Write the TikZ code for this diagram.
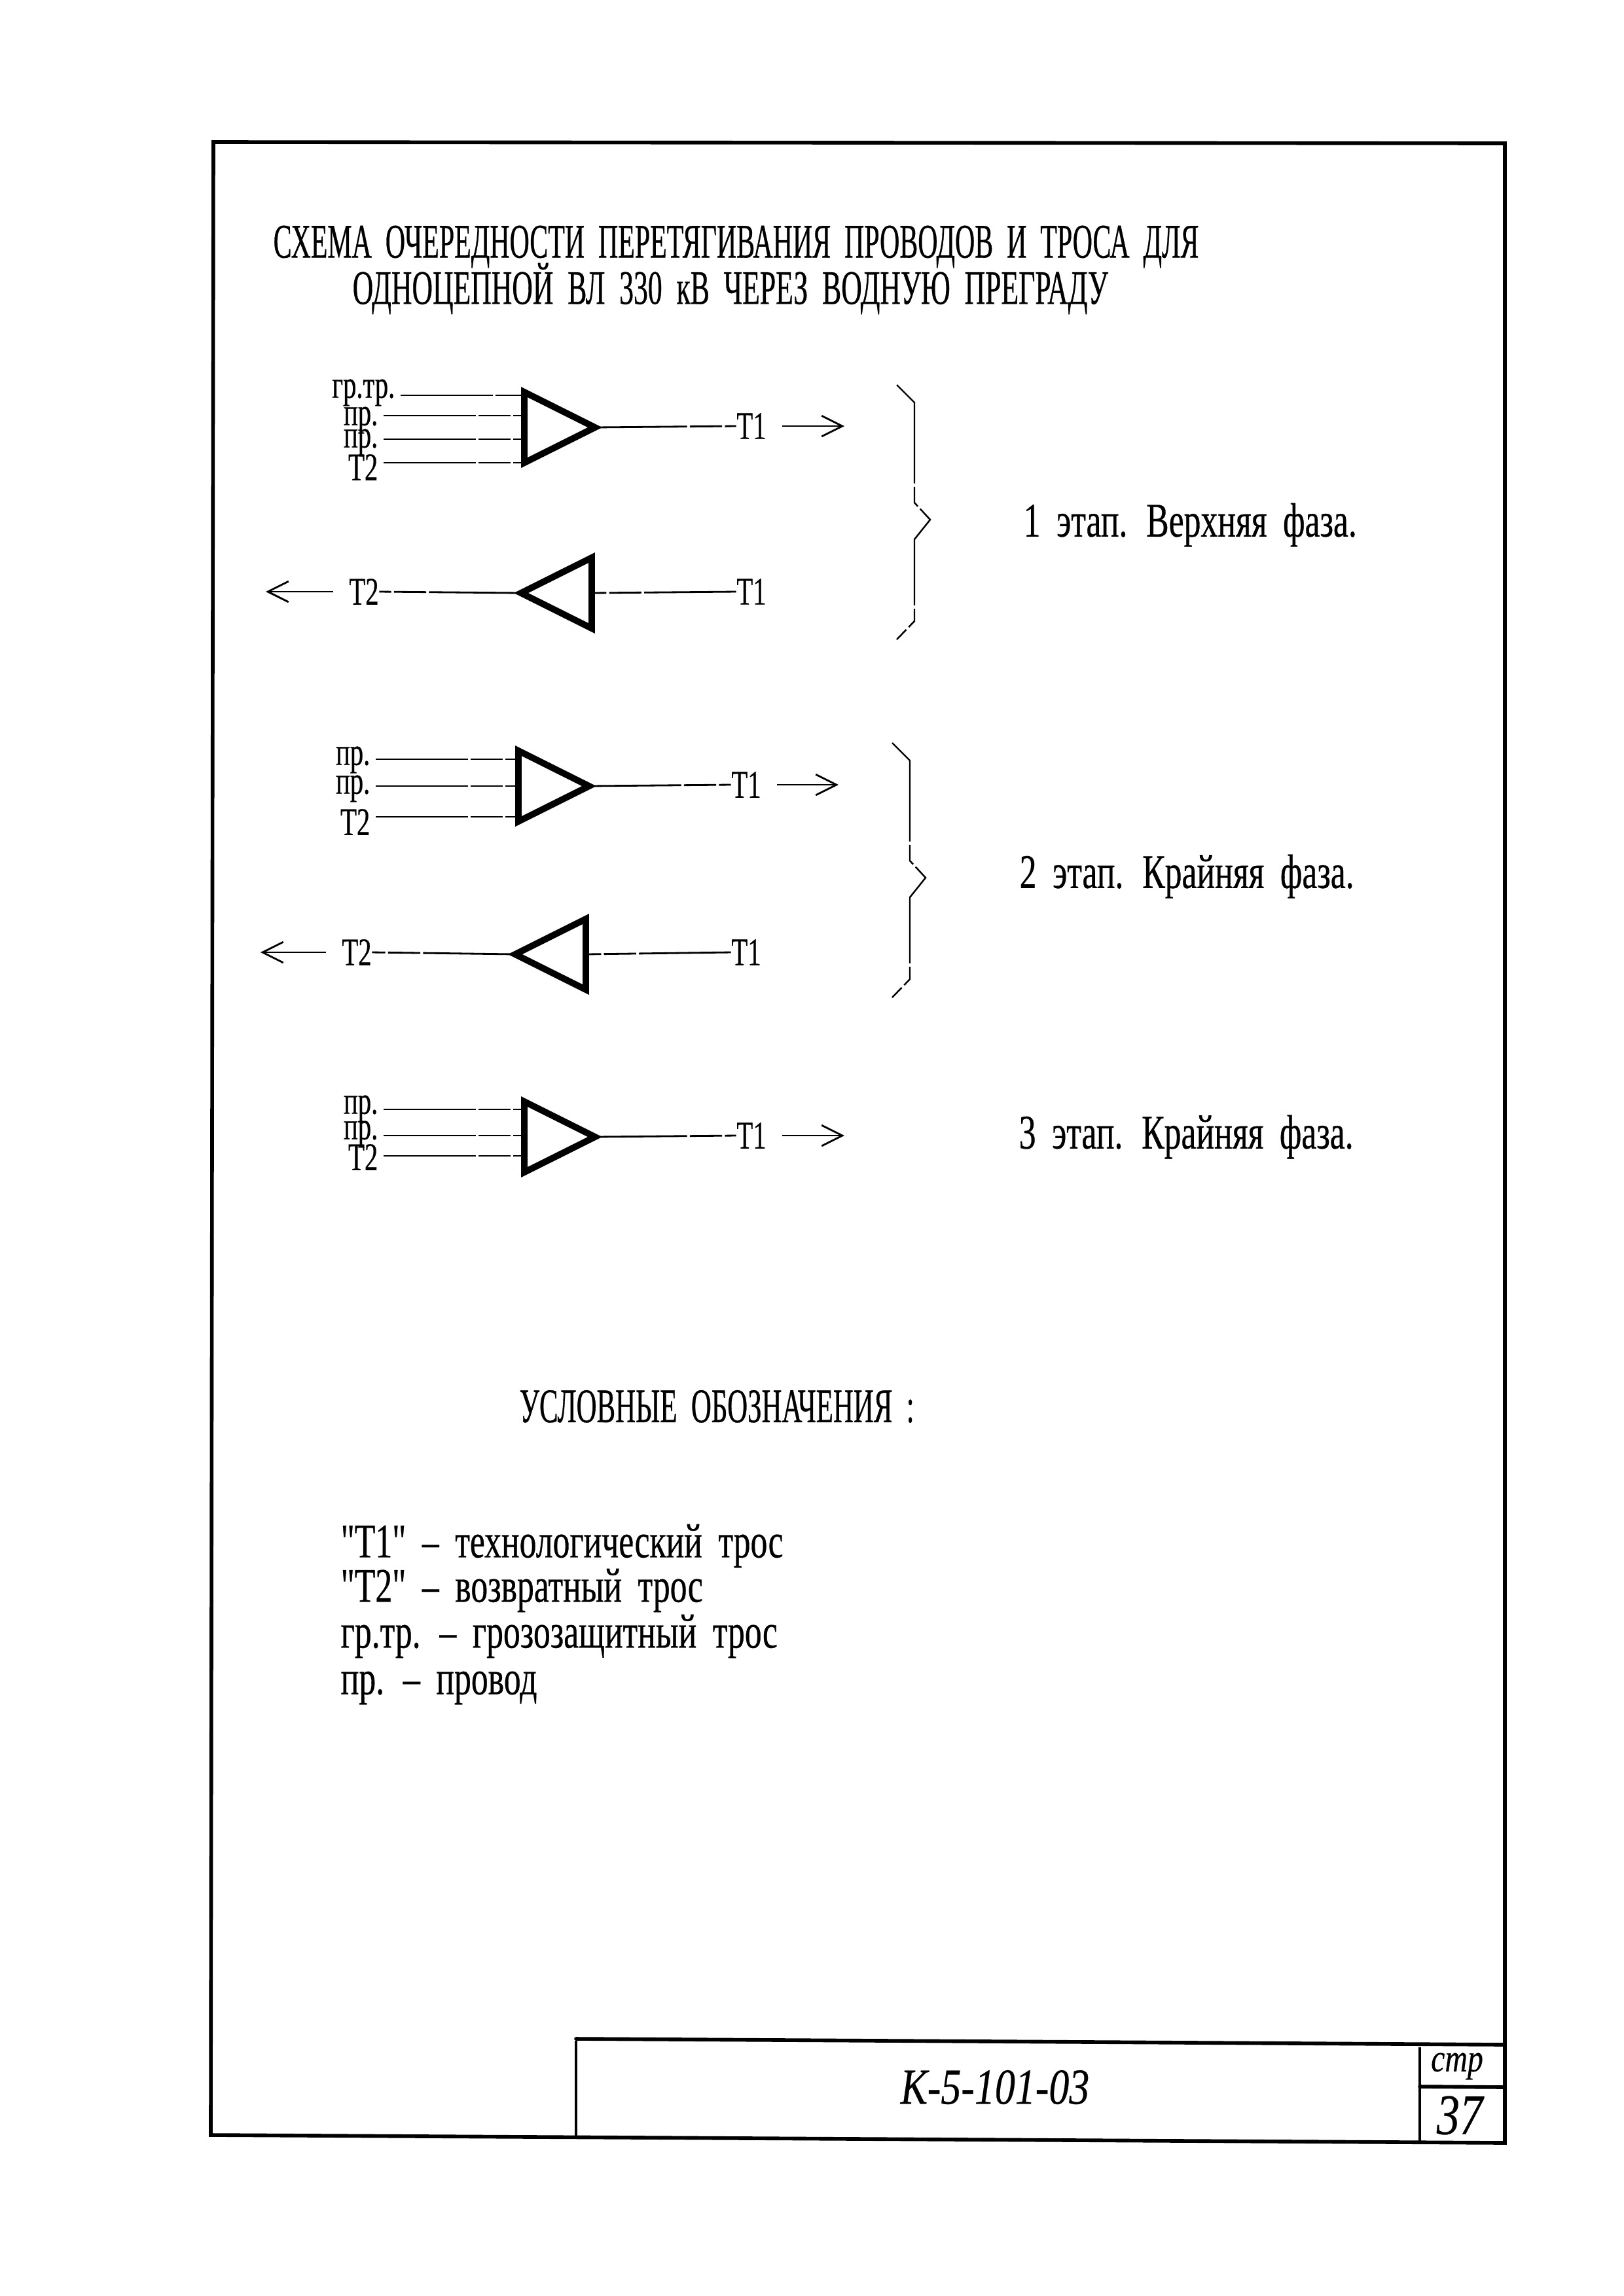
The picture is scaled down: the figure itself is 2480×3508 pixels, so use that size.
\documentclass[tikz,border=0pt]{standalone}
\usepackage{fontspec}
\setmainfont[FakeStretch=0.68,FakeBold=0.5]{Liberation Serif}
\newfontfamily\capsfont[FakeStretch=0.58,WordSpace=2,FakeBold=0.4]{Liberation Serif}
\newfontfamily\stagefont[FakeStretch=0.7,WordSpace=1.9,FakeBold=0.4]{Liberation Serif}
\newfontfamily\handfont[FakeStretch=0.8,FakeBold=0.3]{Liberation Serif Italic}
\usetikzlibrary{arrows.meta}
\tikzset{
  frameline/.style={line width=1.6pt,line cap=round},
  thinline/.style={line width=1pt},
  triline/.style={line width=2.8pt,line join=miter},
  wire/.style={line width=.8pt,dash pattern=on 40pt off 1.2pt on 14pt off 1.2pt},
  pull/.style={line width=.8pt,-{Straight Barb[length=9pt,width=9pt]}},
  brace/.style={line width=.7pt,dash pattern=on 46pt off 1.5pt on 9pt off 1.5pt},
  wlabel/.style={inner sep=0pt,font=\fontsize{17}{17}\selectfont},
  stagetext/.style={inner sep=0pt,anchor=west,font=\stagefont\fontsize{21}{21}\selectfont},
  titletext/.style={inner sep=0pt,anchor=west,font=\capsfont\fontsize{21}{21}\selectfont},
  handtext/.style={inner sep=0pt,font=\handfont\fontsize{22}{22}\selectfont}
}
\begin{document}
\begin{tikzpicture}[x=0.01cm,y=-0.01cm]
  \useasboundingbox (0,0) rectangle (2480,3508);
  % sheet frame
  \draw[frameline] (326,217) -- (2299,219) -- (2299,3274) -- (322,3262) -- cycle;
  \draw[frameline] (880,3115) -- (2299,3124);
  \draw[thinline] (880,3118) -- (880,3266);
  \draw[thinline] (2169,3128) -- (2169,3272);
  \draw[frameline] (2169,3188) -- (2299,3189);
  \node[handtext] (sheetcode) at (1520,3189) {К-5-101-03};
  \node[handtext,font=\handfont\fontsize{17}{17}\selectfont] (sheetword) at (2226,3157) {стр};
  \node[handtext,font=\handfont\fontsize{25}{25}\selectfont] (sheetno) at (2230,3232) {37};
  % headings
  \node[titletext,xscale=.978,transform shape] (titlea) at (417,377) {СХЕМА ОЧЕРЕДНОСТИ ПЕРЕТЯГИВАНИЯ ПРОВОДОВ И ТРОСА ДЛЯ};
  \node[titletext,xscale=1.02,transform shape] (titleb) at (538,441) {ОДНОЦЕПНОЙ ВЛ 330 кВ ЧЕРЕЗ ВОДНУЮ ПРЕГРАДУ};
  \node[titletext] (legendhead) at (793,2149) {УСЛОВНЫЕ ОБОЗНАЧЕНИЯ :};
  \foreach \nm/\y/\txt in {
    legenda/2362/"Т1" – технологический трос,
    legendb/2430/"Т2" – возвратный трос,
    legendc/2500/гр.тр. – грозозащитный трос,
    legendd/2579/пр. – провод
  }{
    \node[stagetext] (\nm) at (520,\y) {\txt};
  }
  % stage captions
  \foreach \nm/\x/\y/\txt in {
    stagea/1563/802/1 этап. Верхняя фаза.,
    stageb/1557/1339/2 этап. Крайняя фаза.,
    stagec/1556/1737/3 этап. Крайняя фаза.
  }{
    \node[stagetext] (\nm) at (\x,\y) {\txt};
  }
  % blocks: name, base x, axis y, direction
  \foreach \nm/\x/\y/\d in {
    bla/801/653/1, blb/904/906/-1, blc/792/1201/1, bld/895/1458/-1, ble/801/1737/1
  }{
    \coordinate (\nm a) at (\x,\y-54);
    \coordinate (\nm b) at (\x,\y+54);
    \coordinate (\nm c) at (\x+\d*108,\y);
    \draw[triline] (\nm a) -- (\nm c) -- (\nm b) -- cycle;
  }
  % incoming lines
  \foreach \nm/\blk/\xe/\ly/\wy/\txt in {
    ina/bla/604/600/604/гр.тр.,
    inb/bla/578/642/635/пр.,
    inc/bla/578/676/671/пр.,
    ind/bla/578/714/707/Т2,
    ine/blc/566/1161/1160/пр.,
    inf/blc/566/1205/1201/пр.,
    ing/blc/566/1256/1248/Т2,
    inh/ble/578/1694/1695/пр.,
    ini/ble/578/1733/1735/пр.,
    inj/ble/578/1768/1766/Т2
  }{
    \node[wlabel,anchor=east] (\nm) at (\xe,\ly) {\txt};
    \draw[wire] (\xe+8,\wy) -- (\blk a |- 0,\wy);
  }
  % outgoing lines with the pulling direction
  \foreach \nm/\blk/\y/\xl/\xe in {
    outa/bla/651/1148/1290, outc/blc/1199/1140/1281, oute/ble/1735/1148/1290
  }{
    \node[wlabel] (\nm) at (\xl,\y) {Т1};
    \coordinate (\nm e) at (\xe,\y);
    \draw[wire] (\blk c) -- (\nm.west);
    \draw[pull] (\nm.east) ++(24,0) -- (\nm e);
  }
  \foreach \nm/\blk/\y/\xl/\xb/\xe in {
    outb/blb/904/1148/556/406, outd/bld/1455/1140/545/398
  }{
    \node[wlabel] (\nm) at (\xl,\y) {Т1};
    \node[wlabel] (\nm t) at (\xb,\y) {Т2};
    \coordinate (\nm e) at (\xe,\y);
    \draw[wire] (\nm.west) -- (\blk a |- \blk c);
    \draw[wire] (\blk c) -- (\nm t.east);
    \draw[pull] (\nm t.west) ++(-24,0) -- (\nm e);
  }
  % braces
  \foreach \nm/\x/\y in {bra/1397/588, brb/1390/1135}{
    \coordinate (\nm a) at (\x-27,\y);
    \coordinate (\nm b) at (\x,\y+27);
    \coordinate (\nm c) at (\x,\y+180);
    \coordinate (\nm d) at (\x+24,\y+206);
    \coordinate (\nm e) at (\x,\y+236);
    \coordinate (\nm f) at (\x,\y+361);
    \coordinate (\nm g) at (\x-27,\y+389);
    \draw[brace] (\nm a) -- (\nm b) -- (\nm c) -- (\nm d) -- (\nm e) -- (\nm f) -- (\nm g);
  }
\end{tikzpicture}
\end{document}
